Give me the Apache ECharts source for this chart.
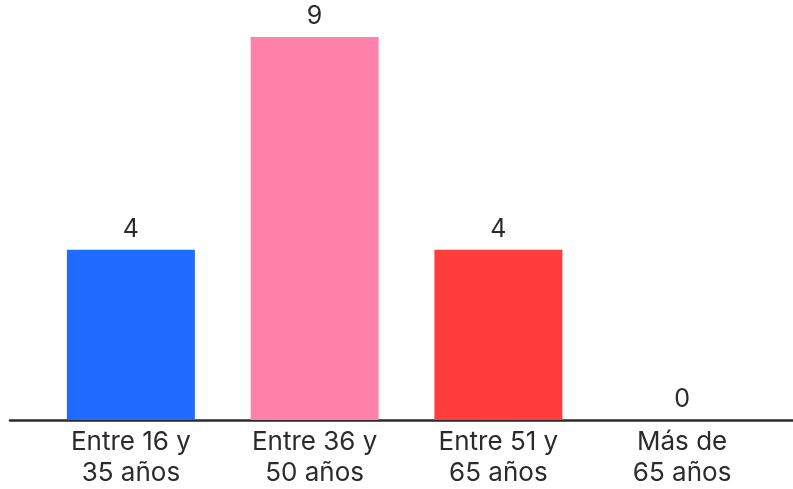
<!DOCTYPE html>
<html>
<head>
<meta charset="utf-8">
<script src="https://cdn.jsdelivr.net/npm/echarts@6/dist/echarts.min.js"></script>
<style>html,body{margin:0;padding:0;background:#fff}#c{width:793px;height:489px}</style>
</head>
<body>
<div id="c"></div>
<script>
const categories = ["Entre 16 y\n35 años", "Entre 36 y\n50 años", "Entre 51 y\n65 años", "Más de\n65 años"];
const values = [4, 9, 4, 0];
const colors = ["#1f6bff", "#ff80a8", "#ff3d3d", "#888888"];

const chart = echarts.init(document.getElementById('c'), null, {renderer: 'canvas'});
chart.setOption({
  backgroundColor: '#ffffff',
  animation: false,
  grid: [
    {left: 39, right: 19, top: 37, bottom: 69},
    {left: 10, right: 0, top: 37, bottom: 69}
  ],
  xAxis: [
    {
      type: 'category', gridIndex: 0, data: categories,
      axisLine: {show: false}, axisTick: {show: false},
      axisLabel: {color: '#2b2b2b', fontSize: 26, fontFamily: 'Inter', lineHeight: 31, margin: 7, interval: 0}
    },
    {
      type: 'value', gridIndex: 1, min: 0, max: 1,
      axisLine: {show: true, lineStyle: {color: '#2b2b2b', width: 2.5}},
      axisTick: {show: false}, axisLabel: {show: false}, splitLine: {show: false}
    }
  ],
  yAxis: [
    {type: 'value', gridIndex: 0, min: 0, max: 9, show: false},
    {type: 'value', gridIndex: 1, min: 0, max: 1, show: false}
  ],
  series: [{
    type: 'bar', xAxisIndex: 0, yAxisIndex: 0,
    barWidth: 128,
    data: values.map((v, i) => ({value: v, itemStyle: {color: colors[i]}})),
    label: {show: true, position: 'top', distance: 8, color: '#2b2b2b', fontSize: 25, fontFamily: 'Inter'}
  }]
});
</script>
</body>
</html>
